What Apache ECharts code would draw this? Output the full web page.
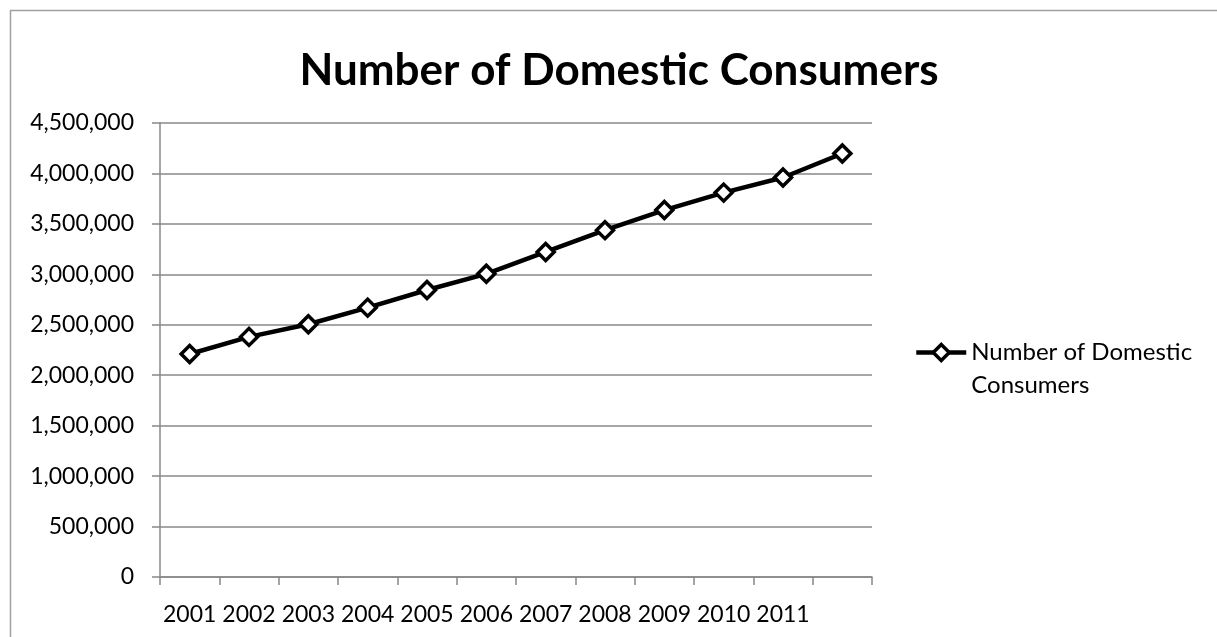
<!DOCTYPE html>
<html>
<head>
<meta charset="utf-8">
<script src="https://cdn.jsdelivr.net/npm/echarts@6/dist/echarts.min.js"></script>
<style>
html,body{margin:0;padding:0;background:#fff;}
#main{width:1217px;height:637px;}
</style>
</head>
<body>
<div id="main"></div>
<script>
var years = ['2001','2002','2003','2004','2005','2006','2007','2008','2009','2010','2011',''];
var consumers = [2210000,2380000,2505000,2670000,2845000,3005000,3222000,3438000,3637000,3810000,3960000,4198000];
var seriesName = 'Number of Domestic Consumers';

var chart = echarts.init(document.getElementById('main'));
var option = {
    backgroundColor: '#fff',
    animation: false,
    textStyle: { fontFamily: 'Lato' },
    title: {
        text: 'Number of Domestic Consumers',
        left: 614,
        textAlign: 'center',
        top: 44,
        textStyle: { fontFamily: 'Lato', fontWeight: 'bold', fontSize: 44, color: '#000' }
    },
    graphic: [{
        type: 'rect',
        shape: { x: 10.5, y: 10.5, width: 1300, height: 700 },
        style: { fill: 'none', stroke: '#a0a0a0', lineWidth: 1.5 },
        silent: true
    }],
    legend: {
        left: 909,
        top: 298,
        itemWidth: 50,
        itemHeight: 20,
        itemGap: 8,
        formatter: function (name) { return ' \nNumber of Domestic\nConsumers'; },
        textStyle: { fontFamily: 'Lato', fontSize: 24, color: '#000', lineHeight: 33 },
        lineStyle: { width: 4.5, color: '#000' },
        itemStyle: { color: '#fff', borderColor: '#000', borderWidth: 3.5 },
        data: [seriesName]
    },
    grid: { left: 160, right: 345, top: 123, bottom: 60, containLabel: false },
    xAxis: {
        type: 'category',
        data: years,
        boundaryGap: true,
        axisLine: { lineStyle: { color: '#888', width: 1.5 } },
        axisTick: { show: true, alignWithLabel: false, length: 8, lineStyle: { color: '#888', width: 1.5 } },
        axisLabel: { color: '#000', fontSize: 23, margin: 26, interval: 0 },
        splitLine: { show: false }
    },
    yAxis: {
        type: 'value',
        min: 0,
        max: 4500000,
        interval: 500000,
        axisLine: { show: true, lineStyle: { color: '#888', width: 1.5 } },
        axisTick: { show: true, length: 8, lineStyle: { color: '#888', width: 1.5 } },
        axisLabel: {
            color: '#000', fontSize: 23, margin: 26,
            formatter: function (v) { return v.toLocaleString('en-US'); }
        },
        splitLine: { show: true, lineStyle: { color: '#888', width: 1.5 } }
    },
    series: [{
        name: seriesName,
        type: 'line',
        data: consumers,
        symbol: 'diamond',
        symbolSize: 17,
        lineStyle: { color: '#000', width: 4.5 },
        itemStyle: { color: '#fff', borderColor: '#000', borderWidth: 3.5 },
        emphasis: { disabled: true }
    }]
};
chart.setOption(option);
</script>
</body>
</html>
